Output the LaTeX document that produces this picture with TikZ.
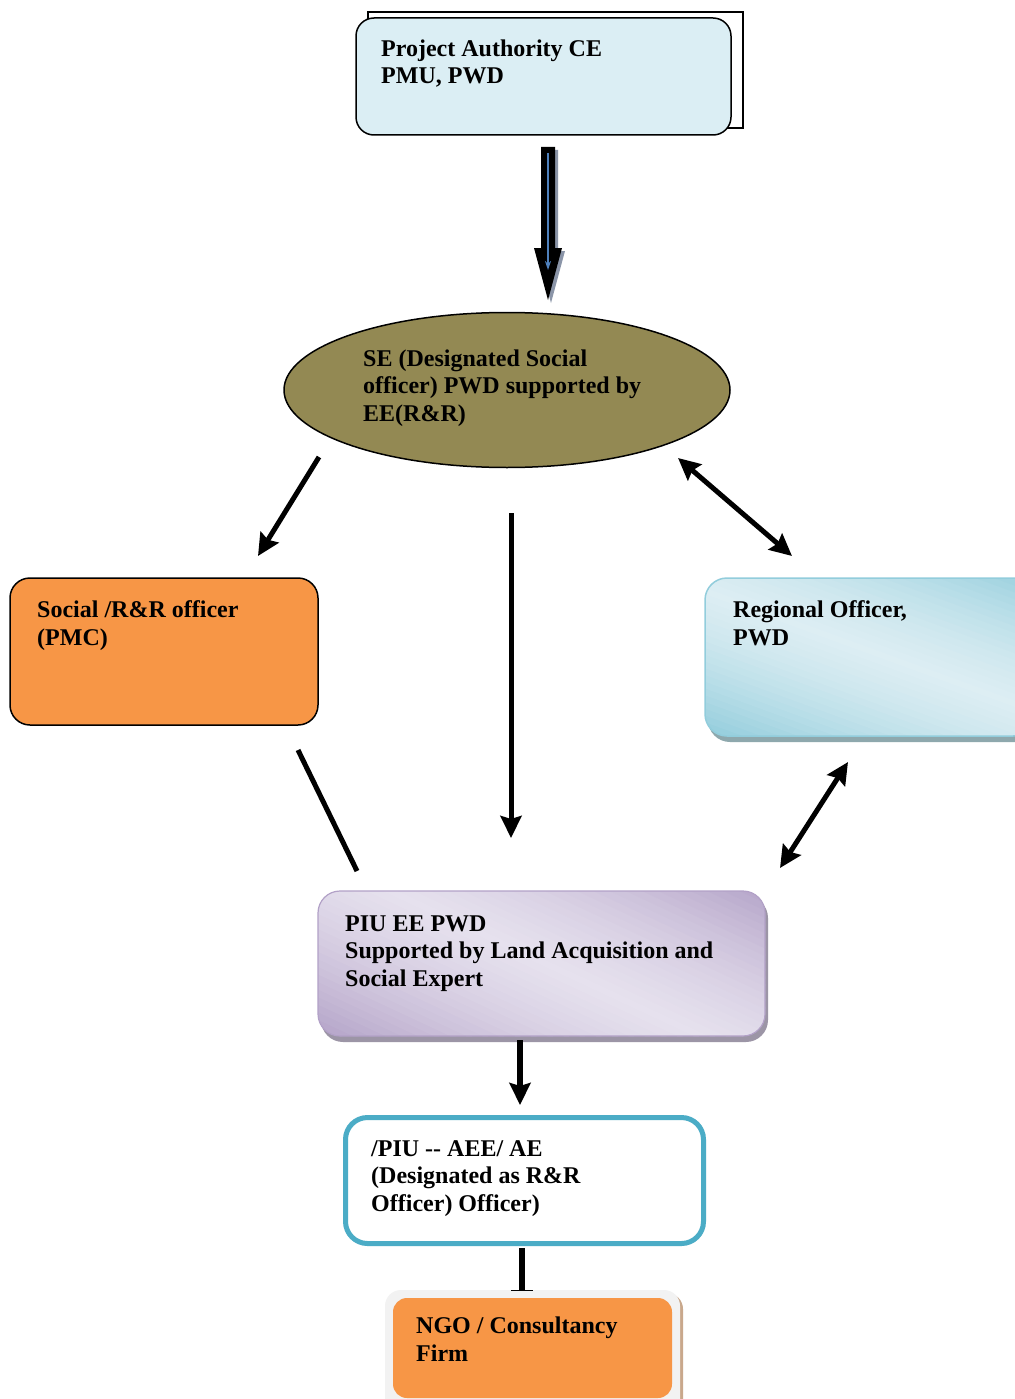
\documentclass[tikz,border=0pt]{standalone}
\usepackage{fontspec}
\setmainfont{Liberation Serif}
\usetikzlibrary{arrows.meta,shapes.geometric,calc}
\definecolor{paleblue}{HTML}{DBEEF4}
\definecolor{olivefill}{HTML}{938953}
\definecolor{orangefill}{HTML}{F79646}
\definecolor{aquadark}{HTML}{92CDDC}
\definecolor{aqualight}{HTML}{DDEEF3}
\definecolor{aquashadow}{HTML}{8EA8AD}
\definecolor{lilacdark}{HTML}{B2A1C7}
\definecolor{lilaclight}{HTML}{E6E1EE}
\definecolor{lilacshadow}{HTML}{9C95A6}
\definecolor{tealborder}{HTML}{4BACC6}
\definecolor{arrowblue}{HTML}{4F81BD}
\definecolor{arrowshadow}{HTML}{8B95A8}
\definecolor{ngoframe}{HTML}{F2F2F2}
\definecolor{ngoshadow}{HTML}{C9A88C}
\begin{document}
\begin{tikzpicture}[x=1pt,y=-1pt,
  txt/.style={font=\fontsize{24}{27.5}\selectfont\bfseries, align=left, inner sep=0pt, anchor=base west},
  boxshape/.style={rectangle, anchor=north west, inner sep=0pt, outer sep=0pt},
  conn/.style={line width=5pt, draw=black},
  >={Stealth[length=22pt,width=21pt,inset=3pt]}
]
\useasboundingbox (0,0) rectangle (1014,1399);
\fill[white] (0,0) rectangle (1014,1399);

% ---------- top box ----------
\draw[line width=1.3pt, fill=white] (368,12) rectangle (743,128);
\node[boxshape, draw=black, line width=1.5pt, fill=paleblue, rounded corners=18pt,
      minimum width=375pt, minimum height=117pt] (pa) at (356,18) {};
\node[txt] (patext) at (381,84) {Project Authority CE\\PMU, PWD};

% ---------- block arrow ----------
\coordinate (ba1) at (548,147);
\coordinate (ba2) at (548,300);
\fill[arrowshadow] ($(ba1)+(-4,3)$) -- ($(ba1)+(10,3)$) -- ($(ba2)+(10,-49)$) -- ($(ba2)+(17,-49)$)
   -- ($(ba2)+(3,3)$) -- ($(ba2)+(-11,-49)$) -- ($(ba2)+(-4,-49)$) -- cycle;
\fill[black] ($(ba1)+(-7,0)$) -- ($(ba1)+(7,0)$) -- ($(ba2)+(7,-52)$) -- ($(ba2)+(14,-52)$)
   -- (ba2) -- ($(ba2)+(-14,-52)$) -- ($(ba2)+(-7,-52)$) -- cycle;
\draw[arrowblue, line width=1.4pt, -{Stealth[length=9pt,width=6pt]}] ($(ba1)+(0,6)$) -- ($(ba2)+(0,-30)$);

% ---------- SE ellipse ----------
\node[ellipse, draw=black, line width=1.5pt, fill=olivefill, minimum width=446pt,
      minimum height=155pt, inner sep=0pt] (se) at (507,390) {};
\node[txt] (setext) at (363,421) {SE (Designated Social\\officer) PWD supported by\\EE(R\&R)};

% ---------- Social box ----------
\node[boxshape, draw=black, line width=1.5pt, fill=orangefill, rounded corners=20pt,
      minimum width=308pt, minimum height=147pt] (soc) at (10,578) {};
\node[txt] (soctext) at (37,645) {Social /R\&R officer\\(PMC)};

% ---------- Regional box (diagonal gradient) ----------
\fill[aquashadow, rounded corners=22pt] (708,583) rectangle (1040,742);
\begin{scope}
  \clip[rounded corners=22pt] (705,578) rectangle (1035,736);
  \begin{scope}[shift={(870,650)}, rotate=70]
    \foreach \i in {0,...,60} {
      \pgfmathsetmacro{\s}{-190+\i*6.3333}
      \pgfmathsetmacro{\a}{min(1,abs(\s)/135)}
      \pgfmathsetmacro{\p}{100*\a*(0.5+0.5*\a)}
      \fill[aquadark!\p!aqualight] (\s-4,-300) rectangle (\s+4,300);
    }
  \end{scope}
\end{scope}
\node[boxshape, draw=aquadark, line width=1.5pt, rounded corners=22pt,
      minimum width=330pt, minimum height=158pt] (reg) at (705,578) {};
\node[txt] (regtext) at (733,645) {Regional Officer,\\PWD};

% ---------- PIU box (diagonal gradient) ----------
\fill[lilacshadow, rounded corners=22pt] (321,896) rectangle (768,1042);
\begin{scope}
  \clip[rounded corners=22pt] (318,891) rectangle (765,1036);
  \begin{scope}[shift={(541,960)}, rotate=65]
    \foreach \i in {0,...,70} {
      \pgfmathsetmacro{\s}{-240+\i*6.857}
      \pgfmathsetmacro{\a}{min(1,abs(\s)/165)}
      \pgfmathsetmacro{\p}{100*\a*(0.5+0.5*\a)}
      \fill[lilacdark!\p!lilaclight] (\s-4.5,-400) rectangle (\s+4.5,400);
    }
  \end{scope}
\end{scope}
\node[boxshape, draw=lilacdark, line width=1.2pt, rounded corners=22pt,
      minimum width=447pt, minimum height=145pt] (piu) at (318,891) {};
\node[txt] (piutext) at (345,986) {PIU EE PWD\\Supported by Land Acquisition and\\Social Expert};

% ---------- /PIU box ----------
\node[boxshape, draw=tealborder, line width=5pt, fill=white, rounded corners=22pt,
      minimum width=358pt, minimum height=126pt] (ae) at (345.5,1117.5) {};
\node[txt] (aetext) at (371,1211) {/PIU -{}- AEE/ AE\\(Designated as R\&R\\Officer) Officer)};

% ---------- NGO box ----------
\fill[ngoshadow, rounded corners=16pt] (388,1293) rectangle (683,1420);
\node[boxshape, fill=ngoframe, rounded corners=16pt,
      minimum width=295pt, minimum height=130pt] (ngoframe) at (385,1290) {};
\node[boxshape, fill=orangefill, rounded corners=14pt,
      minimum width=279pt, minimum height=100pt] (ngo) at (393,1298) {};
\node[txt] (ngotext) at (416,1361) {NGO / Consultancy\\Firm};

% ---------- connectors ----------
\coordinate (c1s) at (319,457);  \coordinate (c1e) at (258,556);
\coordinate (c2s) at (511,513);  \coordinate (c2e) at (511,838);
\coordinate (c3s) at (678,458);  \coordinate (c3e) at (792,556);
\coordinate (c4s) at (298,750);  \coordinate (c4e) at (357,871);
\coordinate (c5s) at (848,762);  \coordinate (c5e) at (780,868);
\coordinate (c6s) at (520,1040); \coordinate (c6e) at (520,1105);
\coordinate (c7s) at (522,1248); \coordinate (c7e) at (522,1290);

\draw[conn, ->] (c1s) -- (c1e);
\draw[conn, ->] (c2s) -- (c2e);
\draw[conn, <->] (c3s) -- (c3e);
\draw[conn] (c4s) -- (c4e);
\draw[conn, <->] (c5s) -- (c5e);
\draw[conn, line width=6pt, ->] (c6s) -- (c6e);
\draw[conn, line width=6.5pt] (c7s) -- (c7e);
\draw[line width=1pt] ($(c7e)+(-11,0)$) -- ($(c7e)+(11,0)$);
\end{tikzpicture}
\end{document}
